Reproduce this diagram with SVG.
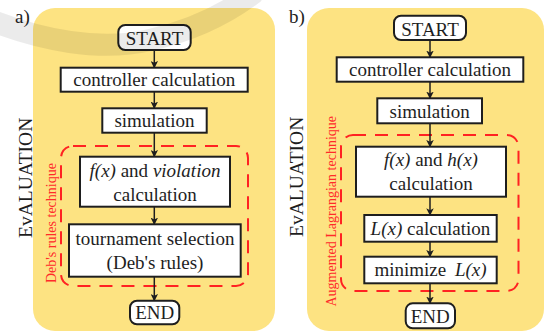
<svg xmlns="http://www.w3.org/2000/svg" width="545" height="331" viewBox="0 0 545 331" font-family="'Liberation Serif', 'Times New Roman', serif">
<defs>
<style>
.panel{fill:#fde382}
.box{fill:#ffffff;stroke:#1e1e1e;stroke-width:2}
.term{fill:#ffffff;stroke:#1e1e1e;stroke-width:2}
.dash{fill:none;stroke:#ff2222;stroke-width:2;stroke-dasharray:13 9}
text{font-family:'Liberation Serif','Times New Roman',serif}
.tx{font-size:19px;fill:#1e1e1e;text-anchor:middle}
.side{font-size:19.5px;fill:#1e1e1e}
.red{font-size:14px;fill:#ff2a2a}
.lbl{font-size:19px;fill:#1e1e1e}
.it{font-style:italic}
.arr{stroke:#1e1e1e;stroke-width:1.5;fill:none;marker-end:url(#ah)}
</style>
<marker id="ah" viewBox="0 0 10 10" refX="9" refY="5" markerWidth="5" markerHeight="5" orient="auto" markerUnits="strokeWidth">
<path d="M0,0 L10,5 L0,10 L2.5,5 Z" fill="#1e1e1e"/>
</marker>
</defs>

<rect class="panel" x="33" y="8" width="242" height="323" rx="22"/>
<rect class="panel" x="307" y="8" width="237" height="323" rx="22"/>

<text class="lbl" x="15" y="23">a)</text>
<text class="lbl" x="289" y="23">b)</text>
<text class="side" transform="translate(31.5,238) rotate(-90)">EvALUATION</text>
<text class="side" transform="translate(303,237) rotate(-90)">EvALUATION</text>

<g id="dashA"><rect class="dash" x="61" y="146" width="187" height="140" rx="12"/>
<text class="red" transform="translate(55.5,283) rotate(-90)">Deb's rules technique</text></g>
<g id="dashB"><rect class="dash" x="341" y="135" width="177.5" height="156" rx="12"/>
<text class="red" transform="translate(336,306.5) rotate(-90)">Augmented Lagrangian technique</text></g>

<g id="connectors">
<line class="arr" x1="154.3" y1="50" x2="154.3" y2="67.7"/>
<line class="arr" x1="154.3" y1="91.7" x2="154.3" y2="108.3"/>
<line class="arr" x1="154.3" y1="132.7" x2="154.3" y2="156.7"/>
<line class="arr" x1="154.3" y1="206.7" x2="154.3" y2="224.3"/>
<line class="arr" x1="154.3" y1="276.7" x2="154.3" y2="300.7"/>
<line class="arr" x1="430" y1="40" x2="430" y2="57.3"/>
<line class="arr" x1="430" y1="81.7" x2="430" y2="98.3"/>
<line class="arr" x1="430" y1="123.3" x2="430" y2="146.7"/>
<line class="arr" x1="430" y1="196.7" x2="430" y2="215"/>
<line class="arr" x1="430" y1="241.7" x2="430" y2="256.7"/>
<line class="arr" x1="430" y1="283.3" x2="430" y2="303.3"/>
</g>

<g id="a_start"><rect class="term" x="118.3" y="25" width="72.4" height="25" rx="7"/><text class="tx" x="154.5" y="45">START</text></g>
<g id="a_ctrl"><rect class="box" x="60.7" y="67.7" width="187" height="24"/><text class="tx" x="154.2" y="86">controller calculation</text></g>
<g id="a_sim"><rect class="box" x="102.3" y="108.3" width="104.4" height="24.4"/><text class="tx" x="154.5" y="126.7">simulation</text></g>
<g id="a_fx"><rect class="box" x="80" y="156.7" width="150" height="50"/><text class="tx" x="155" y="176.5"><tspan class="it">f(x)</tspan> and <tspan class="it">violation</tspan></text><text class="tx" x="155" y="200.5">calculation</text></g>
<g id="a_tour"><rect class="box" x="69" y="224.3" width="171.7" height="52.4"/><text class="tx" x="155" y="244.5">tournament selection</text><text class="tx" x="155" y="268.5">(Deb's rules)</text></g>
<g id="a_end"><rect class="term" x="130" y="300.7" width="49.3" height="23.6" rx="7"/><text class="tx" x="154.7" y="319.3">END</text></g>

<g id="b_start"><rect class="term" x="394" y="15.7" width="72" height="24.3" rx="7"/><text class="tx" x="430" y="35.5">START</text></g>
<g id="b_ctrl"><rect class="box" x="336.7" y="57.3" width="186.6" height="24.4"/><text class="tx" x="430" y="76">controller calculation</text></g>
<g id="b_sim"><rect class="box" x="377.3" y="98.3" width="104.7" height="25"/><text class="tx" x="429.7" y="117.5">simulation</text></g>
<g id="b_fx"><rect class="box" x="356" y="146.7" width="150" height="50"/><text class="tx" x="431" y="166"><tspan class="it">f(x)</tspan> and <tspan class="it">h(x)</tspan></text><text class="tx" x="431" y="190">calculation</text></g>
<g id="b_lx"><rect class="box" x="364.3" y="215" width="132.4" height="26.7"/><text class="tx" x="430.5" y="235"><tspan class="it">L(x)</tspan> calculation</text></g>
<g id="b_min"><rect class="box" x="364.3" y="256.7" width="132.4" height="26.6"/><text class="tx" x="430.5" y="276">minimize <tspan class="it" dx="4">L(x)</tspan></text></g>
<g id="b_end"><rect class="term" x="405.7" y="303.3" width="49.3" height="25" rx="7"/><text class="tx" x="430.3" y="323">END</text></g>

<path d="M-10,20 C40,40 100,52 150,40 C190,31 225,15 255,-8" fill="none" stroke="#000" stroke-opacity="0.08" stroke-width="22"/>
</svg>
